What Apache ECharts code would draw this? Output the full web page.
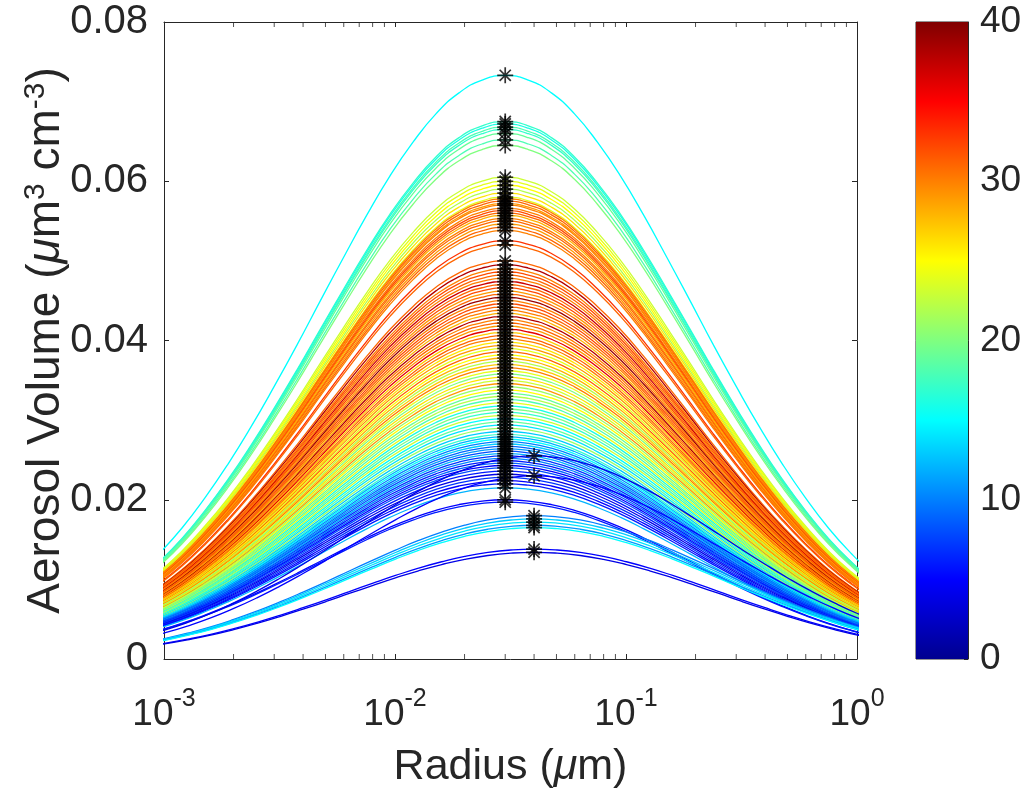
<!DOCTYPE html>
<html>
<head>
<meta charset="utf-8">
<script src="https://cdn.jsdelivr.net/npm/echarts@6.0.0/dist/echarts.min.js"></script>
<style>
  html, body { margin: 0; background: #fff; }
  #chart { width: 1023px; height: 793px; }
</style>
</head>
<body>
<div id="chart"></div>
<script>
// peaks of the size distributions that top out at r = 0.03 um (volume, colour value)
const peakVolume03 = [0.0733,
  0.0675, 0.0672, 0.0668, 0.0665, 0.0660, 0.0652, 0.0645,
  0.0605, 0.0600, 0.0595, 0.0590, 0.0585, 0.0580,
  0.0578, 0.0575, 0.0572, 0.0570, 0.0566, 0.0563, 0.0560, 0.0557, 0.0553, 0.0550, 0.0546, 0.0542, 0.0538, 0.0525, 0.0520,
  0.0500, 0.0495, 0.0490, 0.0486, 0.0482, 0.0478, 0.0474, 0.0470, 0.0466, 0.0462, 0.0458, 0.0454, 0.0450, 0.0446, 0.0442,
  0.0438, 0.0434, 0.0430, 0.0426, 0.0422, 0.0418, 0.0414, 0.0410, 0.0406, 0.0402,
  0.0398, 0.0394, 0.0390, 0.0386, 0.0382, 0.0378, 0.0374, 0.0370, 0.0366, 0.0362, 0.0358, 0.0354, 0.0350, 0.0346, 0.0342, 0.0338, 0.0334,
  0.0330, 0.0326, 0.0322, 0.0318, 0.0314, 0.0310, 0.0306, 0.0302, 0.0298, 0.0294, 0.0290, 0.0286, 0.0282,
  0.0279, 0.0276, 0.0273, 0.0270, 0.0267, 0.0264, 0.0261, 0.0258, 0.0255, 0.0252, 0.0249, 0.0246, 0.0243, 0.0240,
  0.0236, 0.0232, 0.0228, 0.0224, 0.0220, 0.0215, 0.0200, 0.0197]
const colorValue03 = [15,
  17, 16, 18, 17, 19, 18, 20,
  23, 24, 25, 22, 26, 24,
  30, 31, 29, 30, 30, 32, 31, 28, 30, 31, 29, 31, 30, 33, 31,
  31, 38, 30, 32, 31, 30, 37, 31, 32, 29, 31, 39, 30, 32, 31,
  30, 28, 38, 30, 31, 29, 36, 27, 31, 30,
  26, 29, 24, 31, 25, 28, 22, 27, 30, 24, 20, 26, 23, 29, 21, 25, 19,
  22, 18, 24, 16, 20, 17, 23, 15, 19, 14, 21, 13, 17,
  12, 15, 10, 13, 9, 11, 8, 12, 7, 10, 6, 9, 5, 8,
  6, 4, 7, 5, 6, 12, 5, 6]

// the few that top out at r = 0.04 um
const peakVolume04 = [0.0255, 0.0230, 0.0180, 0.0176, 0.0172, 0.0168, 0.0165, 0.0138, 0.0134]
const colorValue04 = [4, 5, 10, 13, 14, 11, 15, 5, 4]

// common curve shape: offset from the peak (decades of radius) and volume relative to the peak
const decadeOffset = [-1.8, -1.7, -1.6, -1.5, -1.4, -1.3, -1.2, -1.1, -1.0, -0.9, -0.8, -0.7, -0.6, -0.5, -0.4, -0.3, -0.2, -0.1, 0,
  0.1, 0.2, 0.3, 0.4, 0.5, 0.6, 0.7, 0.8, 0.9, 1.0, 1.1, 1.2, 1.3, 1.4, 1.5, 1.6, 1.7, 1.8]
const relVolume = [0.085, 0.110, 0.142, 0.180, 0.224, 0.276, 0.334, 0.398, 0.467, 0.539, 0.614, 0.688, 0.760, 0.827, 0.885, 0.934, 0.970, 0.992, 1,
  0.992, 0.970, 0.934, 0.885, 0.827, 0.760, 0.688, 0.614, 0.539, 0.467, 0.398, 0.334, 0.276, 0.224, 0.180, 0.142, 0.110, 0.085]

const minorTickRadius = [0.002, 0.003, 0.004, 0.005, 0.006, 0.007, 0.008, 0.009,
  0.02, 0.03, 0.04, 0.05, 0.06, 0.07, 0.08, 0.09,
  0.2, 0.3, 0.4, 0.5, 0.6, 0.7, 0.8, 0.9]

const FONT = 'Liberation Sans, Arial, sans-serif'
const INK = '#262626'

// matlab jet, 0..40
const jet = v => {
  const t = v / 40
  const ch = x => Math.round(255 * Math.max(0, Math.min(1, 1.5 - Math.abs(4 * t - x))))
  return `rgb(${ch(3)},${ch(2)},${ch(1)})`
}

const series = []
const stars = []

const addCurves = (vols, cols, r0) => {
  vols.forEach((v, i) => {
    series.push({
      type: 'line',
      xAxisIndex: 0,
      yAxisIndex: 0,
      smooth: true,
      symbol: 'none',
      silent: true,
      lineStyle: { width: 1.3, color: jet(cols[i]) },
      data: decadeOffset.map((d, k) => [r0 * Math.pow(10, d), v * relVolume[k]])
    })
    stars.push([r0, v])
  })
}
addCurves(peakVolume03, colorValue03, 0.03)
addCurves(peakVolume04, colorValue04, 0.04)

series.push({
  type: 'scatter',
  xAxisIndex: 0,
  yAxisIndex: 0,
  silent: true,
  symbol: 'path://M5,0L5,10M0,5L10,5M1.5,1.5L8.5,8.5M1.5,8.5L8.5,1.5',
  symbolSize: 16,
  itemStyle: { color: 'rgba(0,0,0,0)', borderColor: '#000', borderWidth: 1.7 },
  data: stars,
  z: 5
})

// minor ticks of the log axis, bottom and top
series.push({
  type: 'scatter', xAxisIndex: 0, yAxisIndex: 0, silent: true, clip: false,
  symbol: 'rect', symbolSize: [1, 5], symbolOffset: [0, -2.5],
  itemStyle: { color: INK },
  data: minorTickRadius.map(r => [r, 0]), z: 6
})
series.push({
  type: 'scatter', xAxisIndex: 0, yAxisIndex: 0, silent: true, clip: false,
  symbol: 'rect', symbolSize: [1, 5], symbolOffset: [0, 2.5],
  itemStyle: { color: INK },
  data: minorTickRadius.map(r => [r, 0.08]), z: 6
})

// colour bar
series.push({
  type: 'bar',
  xAxisIndex: 2,
  yAxisIndex: 2,
  silent: true,
  barWidth: '100%',
  data: [40],
  itemStyle: {
    color: new echarts.graphic.LinearGradient(0, 1, 0, 0, [
      { offset: 0, color: '#00008f' },
      { offset: 0.125, color: '#0000ff' },
      { offset: 0.375, color: '#00ffff' },
      { offset: 0.625, color: '#ffff00' },
      { offset: 0.875, color: '#ff0000' },
      { offset: 1, color: '#800000' }
    ])
  }
})

const axisLine = { show: true, onZero: false, lineStyle: { color: INK, width: 1 } }
const tick = { show: true, inside: true, length: 5, lineStyle: { color: INK } }

const option = {
  animation: false,
  backgroundColor: '#fff',
  grid: [
    { left: 164, top: 22, width: 693, height: 637, containLabel: false, outerBoundsMode: 'none' },
    { left: 916, top: 22, width: 52, height: 637, containLabel: false, outerBoundsMode: 'none',
      show: true, borderColor: INK, borderWidth: 1 }
  ],
  xAxis: [
    {
      gridIndex: 0,
      type: 'log',
      logBase: 10,
      min: 0.001,
      max: 1,
      axisLine,
      axisTick: tick,
      splitLine: { show: false },
      axisLabel: {
        margin: 28,
        formatter: v => `{b|10}{s|${Math.round(Math.log10(v))}}`,
        rich: {
          b: { fontSize: 37, fontFamily: FONT, color: INK, lineHeight: 56 },
          s: { fontSize: 25, fontFamily: FONT, color: INK, verticalAlign: 'top' }
        }
      },
      name: 'Radius ({mu|μ}m)',
      nameLocation: 'middle',
      nameGap: 87,
      nameMoveOverlap: false,
      nameTextStyle: {
        fontSize: 43, fontFamily: FONT, color: INK,
        rich: { mu: { fontSize: 43, fontFamily: FONT, color: INK, fontStyle: 'italic' } }
      }
    },
    {
      gridIndex: 0,
      type: 'log',
      logBase: 10,
      min: 0.001,
      max: 1,
      position: 'top',
      axisLine,
      axisTick: tick,
      axisLabel: { show: false },
      splitLine: { show: false }
    },
    { gridIndex: 1, type: 'category', data: ['c'], show: false }
  ],
  yAxis: [
    {
      gridIndex: 0,
      type: 'value',
      min: 0,
      max: 0.08,
      interval: 0.02,
      axisLine,
      axisTick: tick,
      splitLine: { show: false },
      axisLabel: { margin: 16, fontSize: 40, fontFamily: FONT, color: INK },
      name: 'Aerosol Volume ({mu|μ}m{s|3} cm{s|-3})',
      nameLocation: 'middle',
      nameRotate: 90,
      nameGap: 93,
      nameMoveOverlap: false,
      nameTextStyle: {
        fontSize: 46, fontFamily: FONT, color: INK, lineHeight: 50,
        rich: {
          mu: { fontSize: 46, fontFamily: FONT, color: INK, fontStyle: 'italic', lineHeight: 50 },
          s: { fontSize: 30, fontFamily: FONT, color: INK, verticalAlign: 'top' }
        }
      }
    },
    {
      gridIndex: 0,
      type: 'value',
      min: 0,
      max: 0.08,
      interval: 0.02,
      position: 'right',
      axisLine,
      axisTick: tick,
      axisLabel: { show: false },
      splitLine: { show: false }
    },
    {
      gridIndex: 1,
      type: 'value',
      min: 0,
      max: 40,
      interval: 10,
      position: 'right',
      axisLine,
      axisTick: { show: true, inside: true, length: 4, lineStyle: { color: INK } },
      splitLine: { show: false },
      axisLabel: { margin: 12, fontSize: 37, fontFamily: FONT, color: INK }
    }
  ],
  series
}

const chart = echarts.init(document.getElementById('chart'))
chart.setOption(option)
window.addEventListener('resize', () => chart.resize())
</script>
</body>
</html>
